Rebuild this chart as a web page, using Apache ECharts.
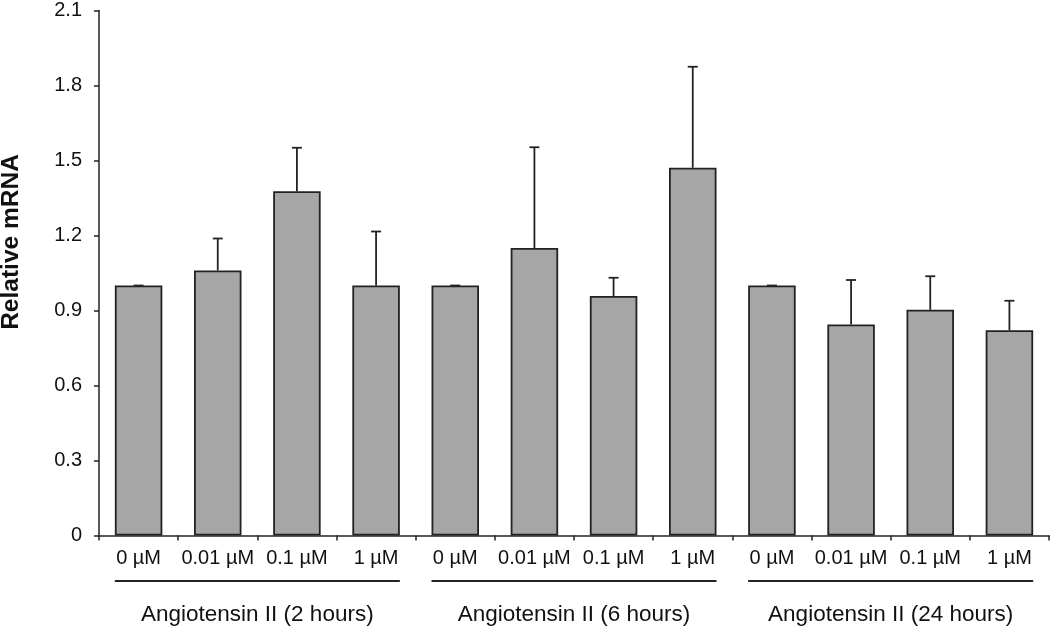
<!DOCTYPE html>
<html>
<head>
<meta charset="utf-8">
<script src="https://cdn.jsdelivr.net/npm/echarts@6/dist/echarts.min.js"></script>
<style>
html,body{margin:0;padding:0;background:#fff;}
#c{width:1050px;height:628px;}
</style>
</head>
<body>
<div id="c"></div>
<script>
var categories = ['0 µM','0.01 µM','0.1 µM','1 µM','0 µM','0.01 µM','0.1 µM','1 µM','0 µM','0.01 µM','0.1 µM','1 µM'];
var values = [1.0, 1.06, 1.377, 1.0, 1.0, 1.15, 0.958, 1.471, 1.0, 0.844, 0.903, 0.821];
var errors = [0, 0.128, 0.174, 0.216, 0, 0.403, 0.073, 0.404, 0, 0.178, 0.134, 0.118];
var groupNames = ['Angiotensin II (2 hours)','Angiotensin II (6 hours)','Angiotensin II (24 hours)'];
var groupStart = [0, 4, 8];
var groupEnd = [3, 7, 11];
var yTicks = [0, 0.3, 0.6, 0.9, 1.2, 1.5, 1.8, 2.1];
var yTitle = 'Relative mRNA';

var FONT = '"Liberation Sans", Arial, sans-serif';
var INK = '#222';

var errData = values.map(function(v, i){ return [i, v, v + errors[i]]; });
var groupData = groupNames.map(function(n, i){ return [groupStart[i], groupEnd[i], n]; });

var chart = echarts.init(document.getElementById('c'), null, {renderer:'canvas'});
chart.setOption({
  animation: false,
  backgroundColor: '#fff',
  grid: {left: 99, right: 1, top: 10.5, bottom: 92.5, containLabel: false, outerBoundsMode: 'none'},
  graphic: [{
    type: 'text',
    x: 11, y: 242,
    rotation: Math.PI / 2,
    style: {text: yTitle, align: 'center', verticalAlign: 'middle', fill: '#111', font: 'bold 24.5px ' + FONT}
  }],
  xAxis: {
    type: 'category',
    data: categories,
    boundaryGap: true,
    axisLine: {show: true, lineStyle: {color: INK, width: 1.5}},
    axisTick: {show: true, length: 5, inside: false, lineStyle: {color: INK, width: 1.5}},
    axisLabel: {color: '#111', fontFamily: FONT, fontSize: 20, margin: 13, interval: 0}
  },
  yAxis: {
    type: 'value',
    min: 0, max: 2.1, interval: 0.3,
    axisLine: {show: true, lineStyle: {color: INK, width: 1.5}},
    axisTick: {show: true, length: 5, lineStyle: {color: INK, width: 1.5}},
    splitLine: {show: false},
    axisLabel: {
      color: '#111', fontFamily: FONT, fontSize: 20, margin: 17,
      formatter: function(v){
        var t = yTicks.find(function(k){ return Math.abs(k - v) < 1e-6; });
        return t === undefined ? '' : String(t);
      }
    }
  },
  series: [
    {
      type: 'bar',
      data: values,
      barWidth: '60%',
      itemStyle: {color: '#a6a6a6', borderColor: INK, borderWidth: 1.8},
      z: 2
    },
    {
      type: 'custom',
      data: errData,
      z: 3,
      renderItem: function(params, api){
        var x = api.value(0);
        var lo = api.coord([x, api.value(1)]);
        var hi = api.coord([x, api.value(2)]);
        var cap = 5;
        var st = {stroke: INK, lineWidth: 1.8};
        return {type: 'group', children: [
          {type: 'line', shape: {x1: lo[0], y1: lo[1], x2: hi[0], y2: hi[1]}, style: st},
          {type: 'line', shape: {x1: hi[0]-cap, y1: hi[1], x2: hi[0]+cap, y2: hi[1]}, style: st}
        ]};
      }
    },
    {
      type: 'custom',
      data: groupData,
      clip: false,
      z: 3,
      renderItem: function(params, api){
        var s = api.coord([api.value(0), 0]);
        var e = api.coord([api.value(1), 0]);
        var bw = api.size([1, 0])[0] * 0.6;
        var x1 = s[0] - bw/2, x2 = e[0] + bw/2;
        var y0 = s[1];
        return {type: 'group', children: [
          {type: 'line', shape: {x1: x1, y1: y0 + 45.5, x2: x2, y2: y0 + 45.5}, style: {stroke: INK, lineWidth: 1.8}},
          {type: 'text', style: {text: api.value(2), x: (x1 + x2)/2, y: y0 + 79, align: 'center', verticalAlign: 'middle', fill: '#111', font: '22.5px ' + FONT}}
        ]};
      }
    }
  ]
});
</script>
</body>
</html>
